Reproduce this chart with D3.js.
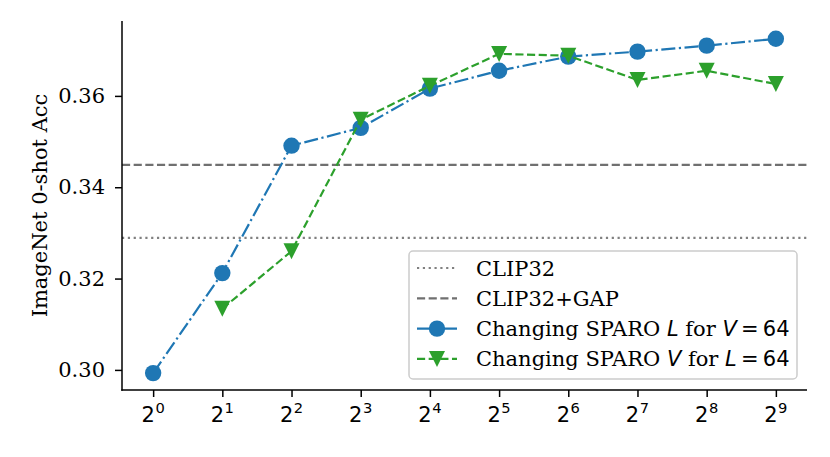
<!DOCTYPE html>
<html>
<head>
<meta charset="utf-8">
<script src="https://cdn.jsdelivr.net/npm/d3@7"></script>
<style>
  body { margin: 0; background: #fff; }
  svg { display: block; }
  text { font-family: "DejaVu Serif", serif; }
</style>
</head>
<body>
<div id="chart"></div>
<script>
// values
var exponents = [0, 1, 2, 3, 4, 5, 6, 7, 8, 9];
var changeL = [0.2993, 0.3212, 0.3491, 0.3530, 0.3616, 0.3655, 0.3686, 0.3697, 0.3710, 0.3725];
var changeV = [null, 0.3134, 0.3260, 0.3548, 0.3622, 0.3692, 0.3688, 0.3635, 0.3655, 0.3626];
var clip32 = 0.3289, clip32gap = 0.3449;
var yTicks = [0.30, 0.32, 0.34, 0.36];

var W = 830, H = 457;
var blue = "#1f77b4", green = "#2ca02c";
var lw = 2.2;

var svg = d3.select("#chart").append("svg")
  .attr("width", W).attr("height", H)
  .attr("viewBox", "0 0 " + W + " " + H);

var X = d3.scaleLinear().domain([-0.45, 9.45]).range([122, 807]);
var Y = d3.scaleLinear().domain([0.2956, 0.3764]).range([390, 21]);

// reference lines
svg.append("line")
  .attr("x1", X.range()[0]).attr("x2", X.range()[1])
  .attr("y1", Y(clip32)).attr("y2", Y(clip32))
  .style("stroke", "#808080").style("stroke-width", lw)
  .style("stroke-dasharray", (1*lw) + "," + (1.65*lw));
svg.append("line")
  .attr("x1", X.range()[0]).attr("x2", X.range()[1])
  .attr("y1", Y(clip32gap)).attr("y2", Y(clip32gap))
  .style("stroke", "#707070").style("stroke-width", lw)
  .style("stroke-dasharray", (3.7*lw) + "," + (1.6*lw));

var line = d3.line()
  .x(function(d){ return X(d.e); })
  .y(function(d){ return Y(d.v); });

var ptsL = exponents.map(function(e, i){ return {e: e, v: changeL[i]}; });
var ptsV = exponents.map(function(e, i){ return {e: e, v: changeV[i]}; }).filter(function(d){ return d.v != null; });

var dashdot = [6.4*lw, 1.6*lw, 1*lw, 1.6*lw].join(",");
var dashed = [3.7*lw, 1.6*lw].join(",");

svg.append("path").attr("d", line(ptsL))
  .style("fill", "none").style("stroke", blue).style("stroke-width", lw)
  .style("stroke-dasharray", dashdot);
svg.selectAll(".dotL").data(ptsL).enter().append("circle")
  .attr("class", "dotL")
  .attr("cx", function(d){ return X(d.e); })
  .attr("cy", function(d){ return Y(d.v); })
  .attr("r", 8.2).style("fill", blue);

svg.append("path").attr("d", line(ptsV))
  .style("fill", "none").style("stroke", green).style("stroke-width", lw)
  .style("stroke-dasharray", dashed);

var tri = function(s){ return "M" + (-s) + "," + (-s) + "L" + s + "," + (-s) + "L0," + s + "Z"; };
svg.selectAll(".triV").data(ptsV).enter().append("path")
  .attr("class", "triV")
  .attr("d", tri(8))
  .attr("transform", function(d){ return "translate(" + X(d.e) + "," + Y(d.v) + ")"; })
  .style("fill", green);

// axes
var fs = 21;
var yAxis = svg.append("g").attr("transform", "translate(" + X.range()[0] + ",0)")
  .call(d3.axisLeft(Y).tickValues(yTicks).tickFormat(d3.format(".2f")).tickSize(7).tickPadding(10));
var xAxis = svg.append("g").attr("transform", "translate(0," + Y.range()[0] + ")")
  .call(d3.axisBottom(X).tickValues(exponents).tickFormat("").tickSize(7));

[xAxis, yAxis].forEach(function(a){
  a.select(".domain").attr("d", null);
  a.selectAll(".tick line").style("stroke", "#000").style("stroke-width", 1.5);
});
yAxis.selectAll(".tick text").style("font-family", "DejaVu Serif").style("font-size", fs + "px").style("fill", "#000");

// spines
svg.append("line").attr("x1", X.range()[0]).attr("x2", X.range()[0])
  .attr("y1", Y.range()[1]).attr("y2", Y.range()[0] + 0.75)
  .style("stroke", "#000").style("stroke-width", 1.5);
svg.append("line").attr("x1", X.range()[0] - 0.75).attr("x2", X.range()[1])
  .attr("y1", Y.range()[0]).attr("y2", Y.range()[0])
  .style("stroke", "#000").style("stroke-width", 1.5);

// x tick labels: 2^n in math sans
var xl = svg.selectAll(".xlab").data(exponents).enter().append("text")
  .attr("class", "xlab")
  .attr("x", function(d){ return X(d); })
  .attr("y", 422)
  .attr("text-anchor", "middle")
  .style("font-family", "DejaVu Sans").style("font-size", fs + "px");
xl.append("tspan").text("2");
xl.append("tspan").attr("dx", 0.5).attr("dy", -9).style("font-size", (fs*0.7) + "px").text(function(d){ return d; });

// y label
svg.append("text")
  .attr("transform", "translate(47," + ((Y.range()[0] + Y.range()[1]) / 2) + ") rotate(-90)")
  .attr("text-anchor", "middle")
  .style("font-size", fs + "px")
  .text("ImageNet 0-shot Acc");

// legend
var lg = svg.append("g").attr("transform", "translate(409,251)");
lg.append("rect").attr("width", 388).attr("height", 128).attr("rx", 4)
  .style("fill", "#fff").style("fill-opacity", 0.8)
  .style("stroke", "#cccccc").style("stroke-width", 1.5);

var entries = [
  {dash: (1*lw) + "," + (1.65*lw), color: "#808080", marker: null, label: "CLIP32"},
  {dash: dashed, color: "#707070", marker: null, label: "CLIP32+GAP"},
  {dash: dashdot, color: blue, marker: "circle", v1: "L", v2: "V"},
  {dash: dashed, color: green, marker: "tri", v1: "V", v2: "L"}
];
entries.forEach(function(e, i){
  var cy = 17 + i * 30.3;
  var row = lg.append("g").attr("transform", "translate(0," + cy + ")");
  row.append("line").attr("x1", 8).attr("x2", 48).attr("y1", 0).attr("y2", 0)
    .style("stroke", e.color).style("stroke-width", lw)
    .style("stroke-dasharray", e.marker === "circle" ? null : e.dash);
  if (e.marker === "circle") row.append("circle").attr("cx", 28).attr("r", 8.2).style("fill", e.color);
  if (e.marker === "tri") row.append("path").attr("d", tri(8)).attr("transform", "translate(28,0)").style("fill", e.color);
  var t = row.append("text").attr("x", 67).attr("y", 7.5).style("font-size", fs + "px");
  if (e.label) {
    t.text(e.label);
  } else {
    t.append("tspan").text("Changing SPARO ");
    t.append("tspan").style("font-family", "DejaVu Sans").style("font-style", "italic").text(e.v1);
    t.append("tspan").text(" for ");
    t.append("tspan").style("font-family", "DejaVu Sans").style("font-style", "italic").text(e.v2);
    t.append("tspan").style("font-family", "DejaVu Sans").text("\u2009=\u200964");
  }
});
</script>
</body>
</html>
